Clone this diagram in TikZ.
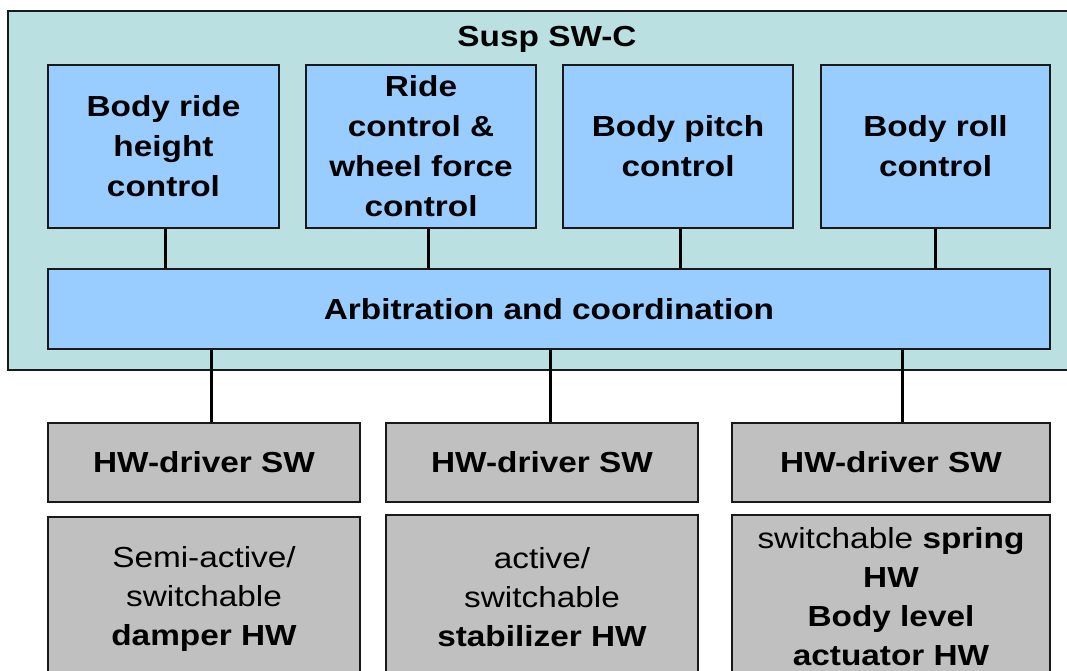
\documentclass[tikz,border=0pt]{standalone}
\usepackage{fontspec}
\setmainfont{Liberation Sans}[FakeStretch=1.15]
\definecolor{swcfill}{HTML}{BAE0E2}
\definecolor{blockfill}{HTML}{99CCFF}
\definecolor{hwfill}{HTML}{C0C0C0}
\begin{document}
\begin{tikzpicture}[x=1pt,y=-1pt,
  every node/.style={font=\fontsize{29}{40}\selectfont, align=center, inner sep=0pt, text=black},
  boxbase/.style={draw=black!90, line width=2pt},
  swcbox/.style={boxbase, fill=swcfill},
  ctrlbox/.style={boxbase, fill=blockfill, minimum height=163pt},
  drvbox/.style={boxbase, fill=hwfill, minimum height=79pt},
  hwbox/.style={boxbase, fill=hwfill, minimum height=164pt, font=\fontsize{29}{39}\selectfont},
  link/.style={line width=3pt, draw=black}
]
\useasboundingbox (0,0) rectangle (1067,671);
\clip (0,0) rectangle (1067,671);
\fill[white] (0,0) rectangle (1067,671);
% outer SW-C
\node[swcbox, minimum width=1072pt, minimum height=359pt] (swc) at (544,190.5) {};
\node[anchor=base, font=\fontsize{29}{40}\selectfont\bfseries] (title) at (547,47) {Susp SW-C};
% control blocks
\node[ctrlbox, minimum width=231pt] (b1) at (163.5,146.5) {\bfseries Body ride\\\bfseries height\\\bfseries control};
\node[ctrlbox, minimum width=230pt] (b2) at (421,146.5) {\bfseries Ride\\\bfseries control \&\\\bfseries wheel force\\\bfseries control};
\node[ctrlbox, minimum width=230pt] (b3) at (678,146.5) {\bfseries Body pitch\\\bfseries control};
\node[ctrlbox, minimum width=229pt] (b4) at (935.5,146.5) {\bfseries Body roll\\\bfseries control};
% arbitration
\node[boxbase, fill=blockfill, minimum width=1002pt, minimum height=80pt] (arb) at (549,309) {\bfseries Arbitration and coordination};
% HW driver SW
\node[drvbox, minimum width=312pt] (d1) at (204,462.5) {\bfseries HW-driver SW};
\node[drvbox, minimum width=312pt] (d2) at (542,462.5) {\bfseries HW-driver SW};
\node[drvbox, minimum width=318pt] (d3) at (891,462.5) {\bfseries HW-driver SW};
% HW
\node[hwbox, minimum width=312pt] (h1) at (204,599) {Semi-active/\\switchable\\\bfseries damper HW};
\node[hwbox, minimum width=312pt] (h2) at (542,597) {active/\\switchable\\\bfseries stabilizer HW};
\node[hwbox, minimum width=318pt] (h3) at (891,597) {switchable \textbf{spring}\\\bfseries HW\\\bfseries Body level\\\bfseries actuator HW};
% connectors top
\draw[link] ([xshift=1.5pt]b1.south) -- ([xshift=1.5pt]b1.south |- arb.north);
\draw[link] ([xshift=7pt]b2.south) -- ([xshift=7pt]b2.south |- arb.north);
\draw[link] ([xshift=2pt]b3.south) -- ([xshift=2pt]b3.south |- arb.north);
\draw[link] ([xshift=-0.5pt]b4.south) -- ([xshift=-0.5pt]b4.south |- arb.north);
% connectors bottom
\draw[link] ([xshift=7pt]d1.north |- arb.south) -- ([xshift=7pt]d1.north);
\draw[link] ([xshift=8pt]d2.north |- arb.south) -- ([xshift=8pt]d2.north);
\draw[link] ([xshift=11pt]d3.north |- arb.south) -- ([xshift=11pt]d3.north);
\end{tikzpicture}
\end{document}
